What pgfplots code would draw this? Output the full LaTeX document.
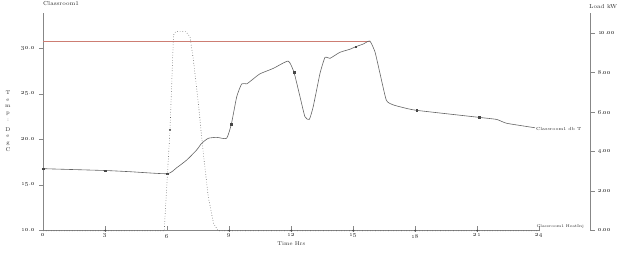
\documentclass[border=0pt]{standalone}
\usepackage{pgfplots}
\pgfplotsset{compat=1.18}
\definecolor{axisgrey}{RGB}{135,135,135}
\definecolor{txtgrey}{RGB}{45,45,45}
\definecolor{linegrey}{RGB}{100,100,100}
\definecolor{markgrey}{RGB}{70,70,70}
\definecolor{maxred}{RGB}{205,125,115}
\newcommand{\sz}{\fontsize{6}{7}\selectfont}
\newcommand{\szx}{\fontsize{5.5}{6.5}\selectfont}
\newcommand{\szs}{\fontsize{4.4}{5.5}\selectfont}
\newcommand{\szh}{\fontsize{4}{5}\selectfont}
\newcommand{\szt}{\fontsize{5.8}{6.5}\selectfont}
\newcommand{\os}[1]{\oldstylenums{#1}}
\begin{document}
\begin{tikzpicture}
\path[use as bounding box] (0,0) rectangle (623pt,255pt);
% ---------- temperature axis ----------
\begin{axis}[
  at={(43.3pt,24.3pt)}, anchor=south west,
  scale only axis, width=496pt, height=217.4pt,
  xmin=0, xmax=24, ymin=10, ymax=33.84,
  axis x line=bottom, axis y line=left,
  axis line style={draw=axisgrey, line width=0.6pt, -},
  every tick/.style={draw=axisgrey, line width=0.5pt},
  major tick length=4.5pt,
  xtick align=inside, ytick align=outside,
  xtick={0,3,6,9,12,15,18,21,24},
  xticklabels={\os{0},\os{3},\os{6},\os{9},\os{12},\os{15},\os{18},\os{21},\os{24}},
  ytick={10,15,20,25,30},
  yticklabels={\os{10}.\os{0},\os{15}.\os{0},\os{20}.\os{0},\os{25}.\os{0},\os{30}.\os{0}},
  tick label style={font=\sz, text=txtgrey},
  y tick label style={xshift=-0.5pt},
  xlabel={Time Hrs}, xlabel style={font=\szx, text=txtgrey, yshift=3pt},
  clip=false,
]
\addplot[color=maxred, line width=0.9pt, mark=none] coordinates {(0,30.8) (15.8,30.8)};
\addplot[draw=linegrey, line width=0.6pt, smooth, tension=0.3] coordinates {
(0,16.8) (3,16.6) (4.2,16.47) (6,16.25) (6.45,16.9) (6.94,17.75) (7.42,18.85)
(7.66,19.58) (7.98,20.13) (8.39,20.24) (8.87,20.13) (9.1,21.7) (9.36,24.7)
(9.6,26.1) (9.84,26.1) (10.08,26.5) (10.48,27.2) (11.13,27.8) (11.85,28.6)
(12.13,27.37) (12.42,24.7) (12.66,22.5) (12.87,22.2) (13.06,23.6) (13.39,27.26)
(13.63,29.0) (13.87,28.9) (14.35,29.56) (14.84,29.9) (15.11,30.17) (15.48,30.47)
(15.8,30.8) (16.05,29.6) (16.29,27.26) (16.6,24.3) (16.93,23.8) (17.42,23.5)
(18.06,23.2) (21.08,22.43) (21.94,22.2) (22.42,21.78) (23.79,21.29)
};
\addplot[only marks, mark=square*, mark size=0.8pt, color=markgrey] coordinates {
(0,16.8) (3,16.6) (6,16.25) (9.1,21.7) (12.13,27.37) (15.11,30.17) (18.06,23.2) (21.08,22.43)
};
\node[font=\szs, text=txtgrey, anchor=west, inner sep=1pt] at (axis cs:23.79,21.15) {Classroom1 db T};
\end{axis}
% ---------- load axis ----------
\begin{axis}[
  at={(43.3pt,24.3pt)}, anchor=south west,
  scale only axis, width=546.7pt, height=217.4pt,
  xmin=0, xmax=26.45, ymin=0, ymax=11.0,
  axis x line=none, axis y line=right,
  axis line style={draw=axisgrey, line width=0.6pt, -},
  every tick/.style={draw=axisgrey, line width=0.5pt},
  major tick length=4.5pt, tick align=outside,
  ytick={0,2,4,6,8,10},
  yticklabels={\os{0}.\os{00},\os{2}.\os{00},\os{4}.\os{00},\os{6}.\os{00},\os{8}.\os{00},\os{10}.\os{00}},
  tick label style={font=\sz, text=txtgrey},
  clip=false,
]
\addplot[draw=linegrey, line width=0.6pt, dotted] coordinates {
(0,0) (5.85,0) (6.13,5.1) (6.3,9.9) (6.4,10.07) (6.9,10.07) (7.1,9.8) (7.26,8.65)
(7.5,6.46) (7.74,3.93) (7.98,1.73) (8.23,0.39) (8.45,0) (24,0)
};
\addplot[only marks, mark=*, mark size=0.8pt, color=markgrey] coordinates {
(3,0) (6.13,5.1) (9,0) (12,0) (15,0) (18,0) (21,0)
};
\node[font=\szh, text=txtgrey, anchor=south west, inner sep=0.5pt, xshift=-3.5pt] at (axis cs:24,0.1) {Classroom1 HeatInj};
\end{axis}
% ---------- free labels ----------
\node[font=\szt, text=txtgrey, anchor=west, inner sep=0pt] at (43pt,251pt) {Classroom1};
\node[font=\szt, text=txtgrey, anchor=west, inner sep=0pt] at (589pt,248pt) {Load kW};
\node[font=\szx, text=txtgrey, align=center, inner sep=0pt] at (8pt,134pt)
  {T\\[0.2pt]e\\[0.2pt]m\\[0.2pt]p\\[0.2pt]:\\[3.5pt]D\\[0.2pt]e\\[0.2pt]g\\[0.2pt]C};
\end{tikzpicture}
\end{document}
